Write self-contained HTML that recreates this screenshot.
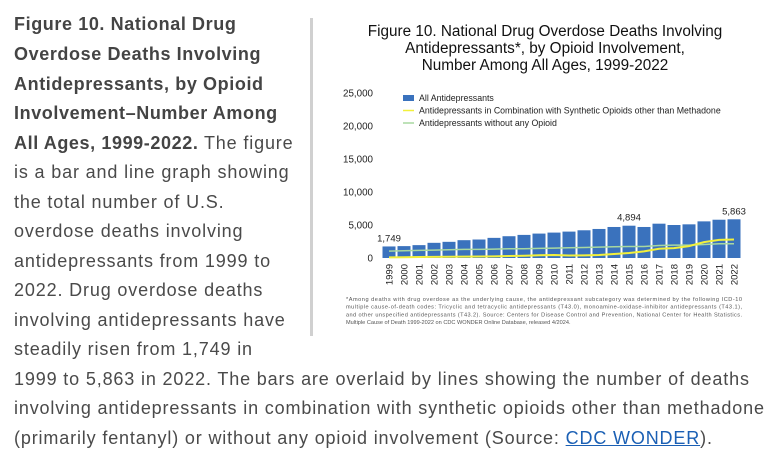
<!DOCTYPE html>
<html><head><meta charset="utf-8"><style>
body{margin:0;width:778px;height:461px;background:#fff;position:relative;overflow:hidden;font-family:"Liberation Sans",sans-serif;color:#4a4a4a}
.ln{position:absolute;left:14px;font-size:18px;letter-spacing:0.85px;white-space:nowrap;line-height:20px}
b{color:#444;letter-spacing:0.6px}
a{color:#1a5fb4;text-decoration:underline}
#divider{position:absolute;left:310px;top:18px;width:3px;height:318px;background:#d0d0d0}
</style></head><body>
<div id="caption">
<div class="ln" style="top:14px"><b>Figure 10. National Drug</b></div>
<div class="ln" style="top:44px"><b>Overdose Deaths Involving</b></div>
<div class="ln" style="top:74px"><b>Antidepressants, by Opioid</b></div>
<div class="ln" style="top:103px"><b>Involvement–Number Among</b></div>
<div class="ln" style="top:133px"><b>All Ages, 1999-2022.</b> The figure</div>
<div class="ln" style="top:162px">is a bar and line graph showing</div>
<div class="ln" style="top:192px">the total number of U.S.</div>
<div class="ln" style="top:221px">overdose deaths involving</div>
<div class="ln" style="top:251px">antidepressants from 1999 to</div>
<div class="ln" style="top:280px">2022. Drug overdose deaths</div>
<div class="ln" style="top:310px">involving antidepressants have</div>
<div class="ln" style="top:339px">steadily risen from 1,749 in</div>
<div class="ln" style="top:369px">1999 to 5,863 in 2022. The bars are overlaid by lines showing the number of deaths</div>
<div class="ln" style="top:398px">involving antidepressants in combination with synthetic opioids other than methadone</div>
<div class="ln" style="top:428px">(primarily fentanyl) or without any opioid involvement (Source: <a href="#">CDC WONDER</a>).</div>
</div>
<div id="divider"></div>
<svg id="chart" width="778" height="461" style="position:absolute;left:0;top:0" font-family="Liberation Sans, sans-serif"></svg>
<script>
const years=[1999,2000,2001,2002,2003,2004,2005,2006,2007,2008,2009,2010,2011,2012,2013,2014,2015,2016,2017,2018,2019,2020,2021,2022];
const allAD=[1749,1800,1950,2300,2450,2700,2800,3050,3300,3500,3700,3850,4000,4200,4400,4700,4894,4700,5200,5000,5100,5550,5800,5863];
const synth=[100,120,150,170,180,200,220,250,300,350,420,450,380,400,450,600,750,1000,1400,1500,1800,2400,2750,2800];
const noOpioid=[1050,1100,1150,1200,1250,1300,1300,1350,1400,1400,1450,1500,1550,1600,1650,1700,1750,1750,1900,1950,1950,2050,2150,2150];
const yTicks=[0,5000,10000,15000,20000,25000];
const labeled={1999:"1,749",2015:"4,894",2022:"5,863"};
const NS="http://www.w3.org/2000/svg";
const svg=document.getElementById('chart');
const y=v=>258-v*165/25000;
const x=i=>389+i*15;
function mk(t,a){const e=document.createElementNS(NS,t);for(const k in a)e.setAttribute(k,a[k]);svg.appendChild(e);return e;}
["Figure 10. National Drug Overdose Deaths Involving","Antidepressants*, by Opioid Involvement,","Number Among All Ages, 1999-2022"].forEach((s,i)=>{
 const t=mk('text',{x:545,y:36+i*17,'font-size':15.3,'text-anchor':'middle',fill:'#111'});t.textContent=s;
 
 
});
yTicks.forEach(v=>{const t=mk('text',{x:373,y:y(v)+3.5,'font-size':9.8,'text-anchor':'end',fill:'#222'});t.textContent=v.toLocaleString('en-US');
 
 });
allAD.forEach((v,i)=>{const r=mk('rect',{x:x(i)-6.5,y:y(v),width:13,height:y(0)-y(v),fill:'#3a72bd'});
 
 
 if(labeled[years[i]]){const t=mk('text',{x:x(i),y:y(v)-5,'font-size':9.5,'text-anchor':'middle',fill:'#222'});t.textContent=labeled[years[i]];
 
 }
 const t=mk('text',{transform:`translate(${x(i)+3.5},${y(0)+6}) rotate(-90)`,'font-size':9.5,'text-anchor':'end',fill:'#222'});t.textContent=years[i];
 
 
});
const l1=mk('polyline',{points:noOpioid.map((v,i)=>x(i)+','+y(v)).join(' '),fill:'none',stroke:'#a8d8a0','stroke-width':1.5});


const l2=mk('polyline',{points:synth.map((v,i)=>x(i)+','+y(v)).join(' '),fill:'none',stroke:'#f2f03c','stroke-width':2});


const lg=[["rect","All Antidepressants","#3a72bd"],["line","Antidepressants in Combination with Synthetic Opioids other than Methadone","#f2f03c"],["line","Antidepressants without any Opioid","#a8d8a0"]];
lg.forEach((d,i)=>{const yy=98+i*12.5;
 const m=d[0]=="rect"?mk('rect',{x:403,y:yy-3,width:11,height:6,fill:d[2]}):mk('line',{x1:403,x2:414,y1:yy,y2:yy,stroke:d[2],'stroke-width':1.5});
 
 
 const t=mk('text',{x:419,y:yy+3,'font-size':8.8,fill:'#222'});t.textContent=d[1];
 
 
});
["*Among deaths with drug overdose as the underlying cause, the antidepressant subcategory was determined by the following ICD-10","multiple cause-of-death codes: Tricyclic and tetracyclic antidepressants (T43.0), monoamine-oxidase-inhibitor antidepressants (T43.1),","and other unspecified antidepressants (T43.2). Source: Centers for Disease Control and Prevention, National Center for Health Statistics.","Multiple Cause of Death 1999-2022 on CDC WONDER Online Database, released 4/2024."].forEach((s,i)=>{
 const t=mk('text',{x:346,y:301+i*7.7,'font-size':5.6,fill:'#555'});
 if(s.length>90)t.setAttribute('textLength',396);
 t.textContent=s;
 
 
});
</script>
</body></html>
